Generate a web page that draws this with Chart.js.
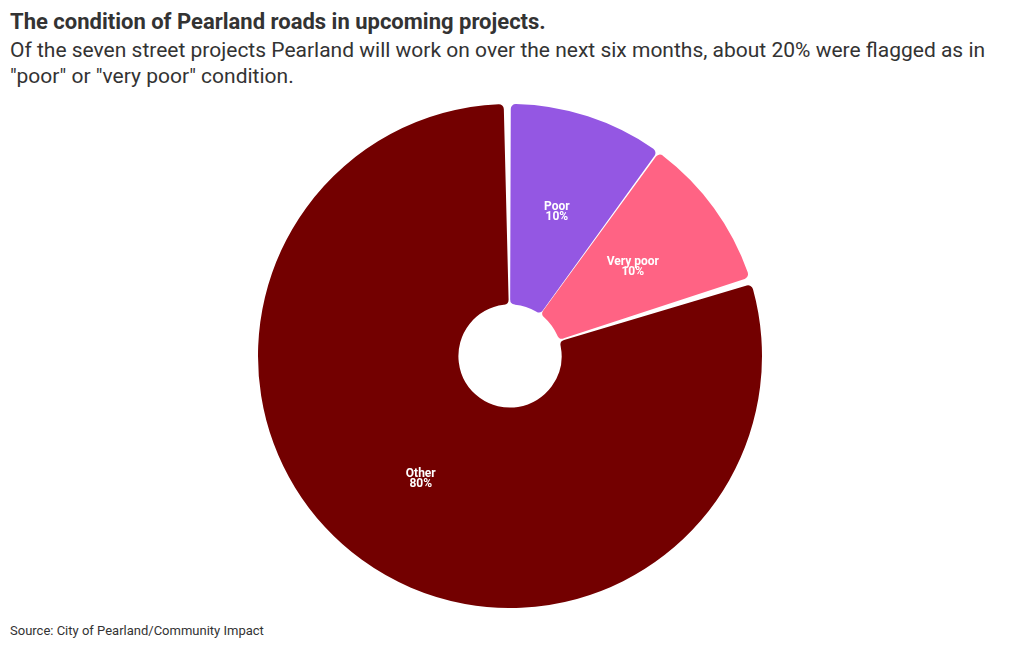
<!DOCTYPE html>
<html>
<head>
<meta charset="utf-8">
<script src="https://cdn.jsdelivr.net/npm/chart.js@4"></script>
<style>
  html, body { margin: 0; padding: 0; background: #fff; }
  body { width: 1020px; height: 650px; position: relative; overflow: hidden; font-family: Roboto, "Noto Sans", sans-serif; color: #333; }
  #title { position: absolute; left: 10px; top: 9px; font-size: 22px; font-weight: bold; color: #333; white-space: nowrap; }
  #subtitle { position: absolute; left: 10px; top: 37px; font-size: 21px; line-height: 26px; color: #333; white-space: nowrap; }
  #source { position: absolute; left: 10px; top: 623px; font-size: 13px; color: #333; }
  #wrap { position: absolute; left: 0; top: 104px; width: 1020px; height: 504px; }
</style>
</head>
<body>
<div id="title">The condition of Pearland roads in upcoming projects.</div>
<div id="subtitle">Of the seven street projects Pearland will work on over the next six months, about 20% were flagged as in<br>"poor" or "very poor" condition.</div>
<div id="wrap"><canvas id="c"></canvas></div>
<div id="source">Source: City of Pearland/Community Impact</div>
<script>
const categories = ["Poor", "Very poor", "Other"];
const values = [10, 10, 80];
const colors = ["#9457e3", "#ff6384", "#730000"];

const labelPlugin = {
  id: 'sliceLabels',
  afterDatasetsDraw(chart) {
    const ctx = chart.ctx;
    const meta = chart.getDatasetMeta(0);
    const total = values.reduce((a, b) => a + b, 0);
    ctx.save();
    ctx.fillStyle = '#fff';
    ctx.font = 'bold 12px Roboto, "Noto Sans", sans-serif';
    ctx.textAlign = 'center';
    ctx.textBaseline = 'middle';
    meta.data.forEach((arc, i) => {
      const p = arc.tooltipPosition();
      const pct = Math.round(values[i] / total * 100) + '%';
      ctx.fillText(categories[i], p.x, p.y - 4.5);
      ctx.fillText(pct, p.x, p.y + 5);
    });
    ctx.restore();
  }
};

new Chart(document.getElementById('c'), {
  type: 'doughnut',
  data: {
    labels: categories,
    datasets: [{
      data: values,
      backgroundColor: colors,
      borderWidth: 0,
      spacing: 3,
      borderRadius: 5,
      hoverOffset: 0
    }]
  },
  options: {
    responsive: true,
    maintainAspectRatio: false,
    animation: false,
    cutout: '20%',
    layout: { padding: 0 },
    plugins: { legend: { display: false }, tooltip: { enabled: false } }
  },
  plugins: [labelPlugin]
});
</script>
</body>
</html>
